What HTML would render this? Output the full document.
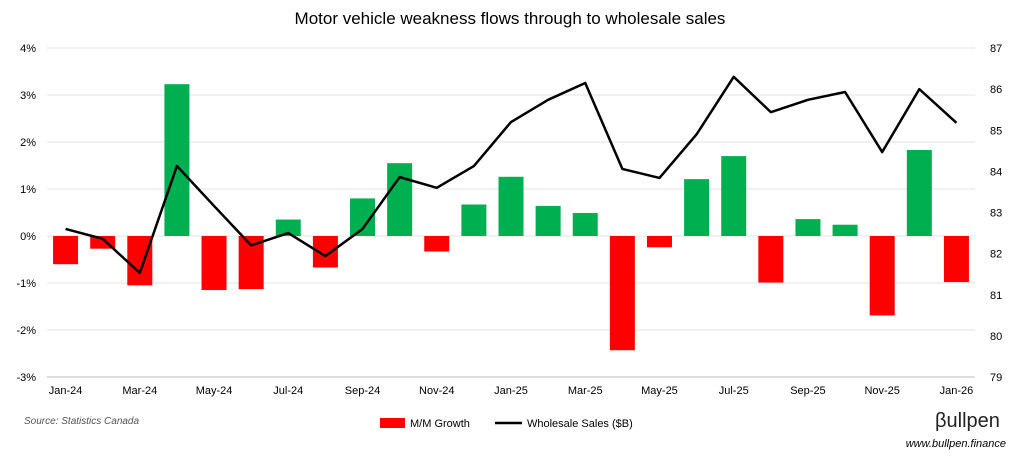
<!DOCTYPE html>
<html><head><meta charset="utf-8"><style>
body{margin:0;background:#fff;font-family:"Liberation Sans",sans-serif;}
svg text{font-family:"Liberation Sans",sans-serif;}
</style></head><body>
<svg width="1021" height="461" viewBox="0 0 1021 461" id="c">
<text x="510" y="24" text-anchor="middle" font-size="17" fill="#000">Motor vehicle weakness flows through to wholesale sales</text>
<g id="grid"></g><g id="bars"></g><g id="line"></g><g id="axes"></g>
<text x="24" y="424" font-size="10" font-style="italic" fill="#555">Source: Statistics Canada</text>
<g>
<rect x="380" y="418" width="25" height="10" fill="#ff0000"/>
<text x="410" y="427" font-size="11">M/M Growth</text>
<line x1="495" y1="423" x2="522" y2="423" stroke="#000" stroke-width="2.5"/>
<text x="527" y="427" font-size="11">Wholesale Sales ($B)</text>
</g>
<text x="935" y="427" font-size="20" fill="#222">βullpen</text>
<text x="1006" y="447" text-anchor="end" font-size="11" font-style="italic" fill="#000">www.bullpen.finance</text>
</svg>
<script>
const months=["Jan-24","Feb-24","Mar-24","Apr-24","May-24","Jun-24","Jul-24","Aug-24","Sep-24","Oct-24","Nov-24","Dec-24","Jan-25","Feb-25","Mar-25","Apr-25","May-25","Jun-25","Jul-25","Aug-25","Sep-25","Oct-25","Nov-25","Dec-25","Jan-26"];
const growth=[-0.6,-0.27,-1.05,3.23,-1.15,-1.13,0.35,-0.67,0.8,1.55,-0.33,0.67,1.26,0.64,0.49,-2.43,-0.24,1.21,1.7,-0.99,0.36,0.24,-1.69,1.83,-0.98];
const sales=[82.6,82.36,81.53,84.13,83.16,82.2,82.5,81.94,82.6,83.86,83.6,84.13,85.2,85.74,86.15,84.06,83.84,84.9,86.3,85.44,85.74,85.93,84.47,86.0,85.18];
const leftTicks=[4,3,2,1,0,-1,-2,-3];
const rightTicks=[87,86,85,84,83,82,81,80,79];
const NS="http://www.w3.org/2000/svg";
const X0=47,X1=975,Y0=48,Y1=377;
const step=(X1-X0)/months.length;
const x=i=>X0+step*(i+0.5);
const yL=v=>Y0+(4-v)/7*(Y1-Y0);
const yR=v=>Y0+(87-v)/8*(Y1-Y0);
function mk(t,a,p){const e=document.createElementNS(NS,t);for(const k in a)e.setAttribute(k,a[k]);p.appendChild(e);return e;}
const grid=document.getElementById('grid'),axes=document.getElementById('axes'),bars=document.getElementById('bars'),line=document.getElementById('line');
leftTicks.forEach(v=>{
const g=mk('line',{x1:X0,x2:X1,y1:yL(v),y2:yL(v),stroke:'#e3e3e3','stroke-width':1},grid);


const t=mk('text',{x:36,y:yL(v)+4,'text-anchor':'end','font-size':11},axes);t.textContent=v+'%';


});
rightTicks.forEach(v=>{
const t=mk('text',{x:990,y:yR(v)+4,'font-size':11},axes);t.textContent=v;


});
const ax=mk('line',{x1:X0,x2:X1,y1:Y1,y2:Y1,stroke:'#bfbfbf'},axes);


months.forEach((m,i)=>{
if(i%2===0){const t=mk('text',{x:x(i),y:Y1+17,'text-anchor':'middle','font-size':11},axes);t.textContent=m;

}
const v=growth[i];
const r=mk('rect',{x:x(i)-12.5,width:25,y:Math.min(yL(0),yL(v)),height:Math.abs(yL(v)-yL(0)),fill:v>=0?'#00b050':'#ff0000'},bars);


});
const p=mk('polyline',{points:sales.map((v,i)=>x(i)+','+yR(v)).join(' '),fill:'none',stroke:'#000','stroke-width':2.5,'stroke-linejoin':'round'},line);


</script>
</body></html>
